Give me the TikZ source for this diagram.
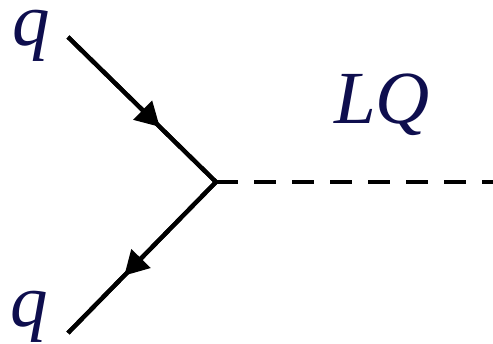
\documentclass[tikz,border=0pt]{standalone}
\usepackage{fontspec}
\newfontfamily\lblfont{LiberationSerif}[Extension=.ttf,UprightFont=*-Regular,ItalicFont=*-Italic]
\usetikzlibrary{arrows.meta,decorations.markings}
\definecolor{labelnavy}{RGB}{14,14,78}
\tikzset{
  fermion/.style={line width=4.3pt, line join=miter},
  scalar/.style={line width=4.3pt, dash pattern=on 22pt off 16pt},
  arrowat/.style={postaction={decorate},decoration={markings,
      mark=at position #1 with {\arrow{Triangle[length=24pt,width=26pt]}}}},
  lbl/.style={text=labelnavy, font=\lblfont\fontsize{75}{75}\selectfont\itshape, inner sep=0pt, anchor=base west}
}
\begin{document}
\begin{tikzpicture}[x=1pt,y=-1pt]
\useasboundingbox (0,0) rectangle (493,344);
\coordinate (qa) at (68,37);
\coordinate (v) at (216,182);
\coordinate (qb) at (68,333);
\coordinate (e) at (493,182);
\draw[fermion,arrowat=0.62] (qa) -- (v);
\draw[fermion,arrowat=0.62] (v) -- (qb);
\draw[fermion] (qa) -- (v) -- (qb);
\draw[scalar] (v) -- (e);
\node[lbl] (lq1) at (12,46) {q};
\node[lbl] (lq2) at (10,327) {q};
\node[lbl] (lLQ) at (334,124) {LQ};
\end{tikzpicture}
\end{document}
